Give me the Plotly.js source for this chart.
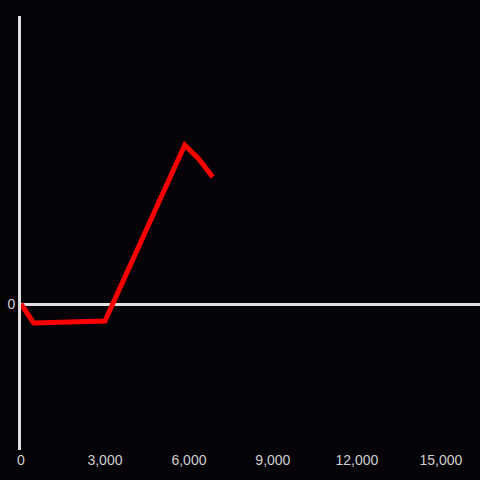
<!DOCTYPE html>
<html>
<head>
<meta charset="utf-8">
<script src="https://cdn.plot.ly/plotly-3.0.1.min.js"></script>
<style>html,body{margin:0;padding:0;background:#050307;}#chart{width:480px;height:480px;}</style>
</head>
<body>
<div id="chart"></div>
<script>
const xValues = [0, 450, 3000, 5500, 5850, 6350, 6850];
const yValues = [0, -19, -17, 135, 159, 145, 127];
const xTickVals = [0, 3000, 6000, 9000, 12000, 15000];
const xTickText = ["0", "3,000", "6,000", "9,000", "12,000", "15,000"];

const trace = {
  x: xValues,
  y: yValues,
  type: 'scatter',
  mode: 'lines',
  line: {color: '#ff0000', width: 5},
  hoverinfo: 'skip'
};

const layout = {
  width: 480,
  height: 480,
  paper_bgcolor: '#050307',
  plot_bgcolor: '#050307',
  margin: {l: 21, r: 0, t: 16, b: 30},
  showlegend: false,
  font: {family: 'Liberation Sans, Arial, sans-serif', color: '#d0d0d0', size: 14},
  xaxis: {
    range: [0, 16400],
    tickvals: xTickVals,
    ticktext: xTickText,
    showgrid: false,
    zeroline: false,
    showline: false,
    ticks: '',
    tickfont: {size: 14, color: '#d0d0d0'}
  },
  yaxis: {
    range: [-146, 288],
    tickvals: [0],
    ticktext: ['0'],
    showgrid: false,
    zeroline: true,
    zerolinecolor: '#e0e0e0',
    zerolinewidth: 3,
    showline: true,
    linecolor: '#e0e0e0',
    linewidth: 3,
    ticks: '',
    tickfont: {size: 14, color: '#d0d0d0'}
  }
};

Plotly.newPlot('chart', [trace], layout, {displayModeBar: false, staticPlot: true});
</script>
</body>
</html>
